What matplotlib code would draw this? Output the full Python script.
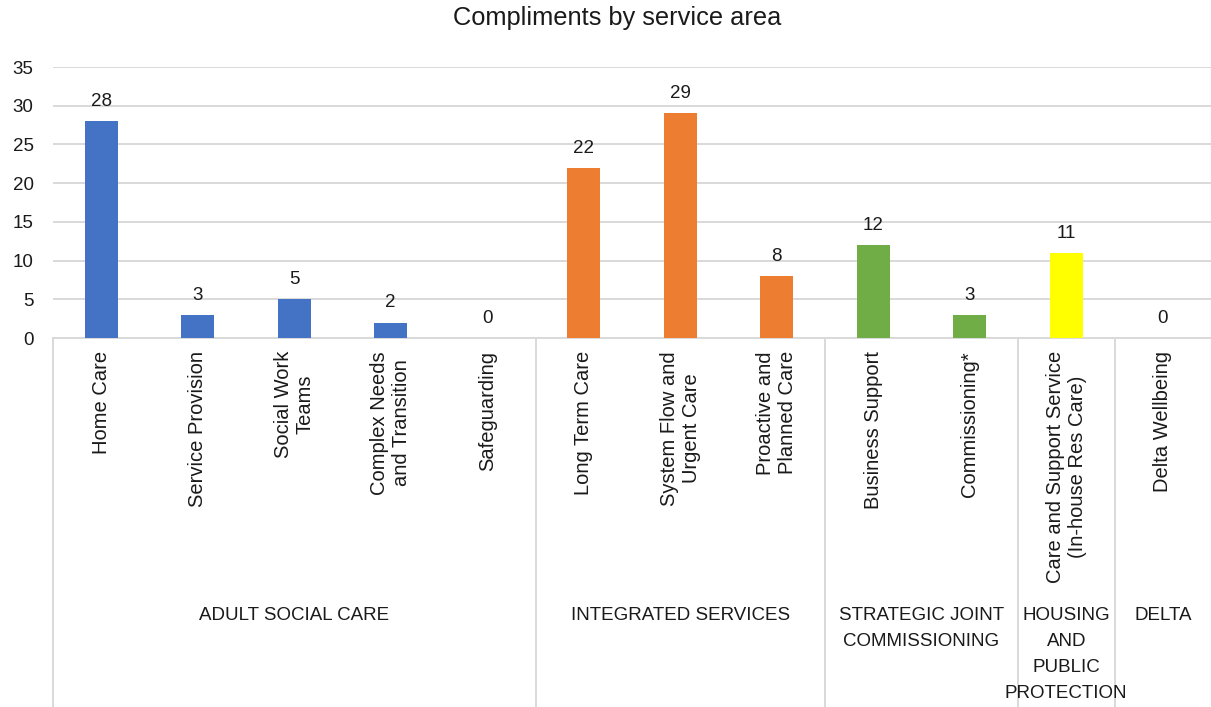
import matplotlib.pyplot as plt
import matplotlib.transforms as mtransforms

plt.rcParams['font.family'] = ['Liberation Sans', 'DejaVu Sans']

services = ["Home Care", "Service Provision", "Social Work\nTeams",
            "Complex Needs\nand Transition", "Safeguarding", "Long Term Care",
            "System Flow and\nUrgent Care", "Proactive and\nPlanned Care",
            "Business Support", "Commissioning*",
            "Care and Support Service\n(In-house Res Care)", "Delta Wellbeing"]
compliments = [28, 3, 5, 2, 0, 22, 29, 8, 12, 3, 11, 0]
groups = ["ADULT SOCIAL CARE", "INTEGRATED SERVICES",
          "STRATEGIC JOINT\nCOMMISSIONING", "HOUSING\nAND\nPUBLIC\nPROTECTION",
          "DELTA"]
group_sizes = [5, 3, 2, 1, 1]
group_colors = ["#4472C4", "#ED7D31", "#70AD47", "#FFFF00", "#4472C4"]

W, H = 1211, 707
fig = plt.figure(figsize=(W / 100, H / 100), dpi=100)
x0, x1, ytop, ybot = 53, 1211, 67, 338
ax = fig.add_axes([x0 / W, 1 - ybot / H, (x1 - x0) / W, (ybot - ytop) / H])

colors = []
for c, n in zip(group_colors, group_sizes):
    colors += [c] * n

xs = list(range(len(services)))
bars = ax.bar(xs, compliments, width=0.34, color=colors, zorder=3)
for x, v in zip(xs, compliments):
    ax.annotate(str(v), (x, v), xytext=(0, 8), textcoords="offset points",
                ha="center", va="bottom", fontsize=13.5, color="#1a1a1a")

ax.set_xlim(-0.5, len(services) - 0.5)
ax.set_ylim(0, 35)
ax.set_yticks(range(0, 36, 5))
ax.tick_params(axis="y", length=0, labelsize=13.5, pad=14, labelcolor="#1a1a1a")
ax.set_xticks([])
ax.yaxis.grid(True, color="#d9d9d9", linewidth=1.4, zorder=0)
for s in ["top", "right", "left"]:
    ax.spines[s].set_visible(False)
ax.spines["bottom"].set_color("#d9d9d9")
ax.spines["bottom"].set_linewidth(1.4)

trans = mtransforms.blended_transform_factory(ax.transData, ax.transAxes)
px = 1 / (ybot - ytop)  # one pixel in axes units

# rotated category names under each bar
for x, name in zip(xs, services):
    ax.text(x, -13 * px, name, rotation=90, ha="center", va="top",
            multialignment="center", fontsize=14.5, color="#1a1a1a",
            transform=trans)

# group separators and group names
bottom = -(H - ybot) * px
start = 0
for g, n in zip(groups, group_sizes):
    edge = start - 0.5
    ax.plot([edge, edge], [0, bottom], color="#d9d9d9", linewidth=1.4,
            transform=trans, clip_on=False)
    ax.text(start + (n - 1) / 2, -269 * px, g, ha="center", va="top",
            multialignment="center", fontsize=13.5, linespacing=1.7,
            color="#1a1a1a", transform=trans)
    start += n

fig.text(617 / W, 1 - 18 / H, "Compliments by service area", ha="center",
         va="center", fontsize=18.3, color="#1a1a1a")

fig.savefig("out.png", dpi=100)
